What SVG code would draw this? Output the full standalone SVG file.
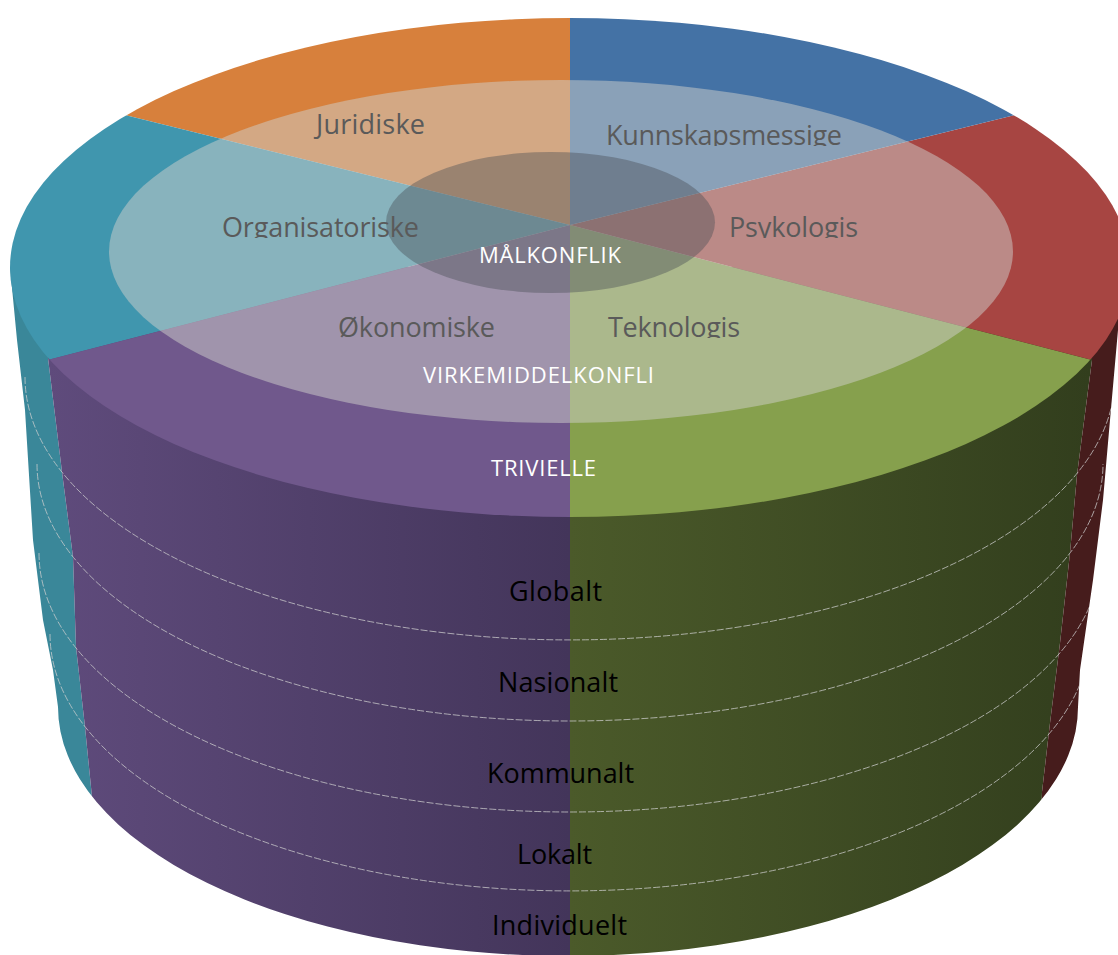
<svg xmlns="http://www.w3.org/2000/svg" width="1118" height="955" viewBox="0 0 1118 955">
<defs>
<style>
.lbl{font-family:"Open Sans","Liberation Sans",sans-serif;font-size:27px;fill:#5a5a5a}
.wl{font-family:"Open Sans","Liberation Sans",sans-serif;font-size:22px;fill:#ffffff}
.ly{font-family:"Open Sans","Liberation Sans",sans-serif;font-size:27px;fill:#000000}
.ring{fill:none;stroke:#cfcfcf;stroke-width:1;stroke-dasharray:7 2;opacity:0.75}
.light{fill:#D0CFCC;opacity:0.5}
.dark{fill:#464B52;opacity:0.4}
</style>
<clipPath id="topClip"><ellipse cx="570" cy="267.5" rx="560" ry="249.5"/></clipPath>
<clipPath id="bodyClip"><path d="M10,267 L17,340 L25,410 L33,540 L43,620 L53,670 L58,707 A510,249 0 0 0 1078,707 L1080,670 L1093,580 L1103,500 L1110,420 L1118,330 L1130,267 Z"/></clipPath>
<clipPath id="c145"><rect x="0" y="0" width="1118" height="146"/></clipPath>
<clipPath id="c237"><rect x="0" y="0" width="1118" height="238"/></clipPath>
<clipPath id="c337"><rect x="0" y="0" width="1118" height="338"/></clipPath>
<clipPath id="c692"><rect x="0" y="0" width="1118" height="693"/></clipPath>
<linearGradient id="gPurple" gradientUnits="userSpaceOnUse" x1="48" y1="0" x2="570" y2="0"><stop offset="0" stop-color="#5F4B7C"/><stop offset="1" stop-color="#43355A"/></linearGradient>
<linearGradient id="gGreen" gradientUnits="userSpaceOnUse" x1="570" y1="0" x2="1090" y2="0"><stop offset="0" stop-color="#4B5A2A"/><stop offset="1" stop-color="#323E1D"/></linearGradient>
</defs>

<g id="cylinder-side" clip-path="url(#bodyClip)">
<path fill="#3A8799" d="M-10,100 L48,100 L48,358 L62,472 L73,557 L76,647 L85,727 L92,797 L100,1000 L-10,1000 Z"/>
<path fill="url(#gPurple)" d="M48,100 L570,100 L570,1000 L100,1000 L92,797 L85,727 L76,647 L73,557 L62,472 L48,358 Z"/>
<path fill="url(#gGreen)" d="M570,100 L1092,100 L1092,360 L1077,475 L1070,553 L1060,643 L1050,723 L1042,792 L1035,1000 L570,1000 Z"/>
<path fill="#461C1C" d="M1092,100 L1140,100 L1140,1000 L1035,1000 L1042,792 L1050,723 L1060,643 L1070,553 L1077,475 L1092,360 Z"/>
</g>

<g id="layer-lines" clip-path="url(#bodyClip)">
<path class="ring" d="M25,377 A545,263 0 0 0 1115,377"/>
<path class="ring" d="M37,464 A533,257 0 0 0 1103,464"/>
<path class="ring" d="M39,553 A531,259 0 0 0 1101,553"/>
<path class="ring" d="M50,634 A520,257 0 0 0 1090,634"/>
</g>

<g id="top-face" clip-path="url(#topClip)">
<path id="sector-juridiske" fill="#D7803C" d="M570,225 L570,-200 L-300,-200 L-300,10 Z"/>
<path id="sector-organisatoriske" fill="#4096AE" d="M570,225 L-300,10 L-300,450 Z"/>
<path id="sector-okonomiske" fill="#70588C" d="M570,225 L-300,450 L-300,800 L570,800 Z"/>
<path id="sector-teknologis" fill="#86A04D" d="M570,225 L570,800 L1440,800 L1440,450 Z"/>
<path id="sector-psykologis" fill="#A74542" d="M570,225 L1440,450 L1440,10 Z"/>
<path id="sector-kunnskapsmessige" fill="#4472A5" d="M570,225 L1440,10 L1440,-200 L570,-200 Z"/>
<ellipse id="virkemiddel-ring" class="light" cx="561" cy="251.5" rx="452" ry="171.5"/>
<ellipse id="malkonflikt-core" class="dark" cx="550.5" cy="222.5" rx="164.5" ry="70.5"/>
</g>

<g id="sector-labels">
<text class="lbl" x="316" y="134" textLength="109" lengthAdjust="spacing">Juridiske</text>
<text class="lbl" x="606" y="145" textLength="236" lengthAdjust="spacing" clip-path="url(#c145)">Kunnskapsmessige</text>
<text class="lbl" x="222" y="237" textLength="197" lengthAdjust="spacing" clip-path="url(#c237)">Organisatoriske</text>
<text class="lbl" x="729" y="237" textLength="129" lengthAdjust="spacing" clip-path="url(#c237)">Psykologis</text>
<text class="lbl" x="338" y="337" textLength="157" lengthAdjust="spacing">Økonomiske</text>
<text class="lbl" x="608" y="337" textLength="132" lengthAdjust="spacing" clip-path="url(#c337)">Teknologis</text>
</g>

<g id="conflict-labels">
<text class="wl" x="479" y="263" textLength="142" lengthAdjust="spacing">MÅLKONFLIK</text>
<text class="wl" x="423" y="383" textLength="231" lengthAdjust="spacing">VIRKEMIDDELKONFLI</text>
<text class="wl" x="491" y="476" textLength="105" lengthAdjust="spacing">TRIVIELLE</text>
</g>

<g id="level-labels">
<text class="ly" x="509" y="601" textLength="93" lengthAdjust="spacing">Globalt</text>
<text class="ly" x="498" y="692" textLength="120" lengthAdjust="spacing" clip-path="url(#c692)">Nasjonalt</text>
<text class="ly" x="487" y="783" textLength="147" lengthAdjust="spacing">Kommunalt</text>
<text class="ly" x="517" y="864" textLength="75" lengthAdjust="spacing">Lokalt</text>
<text class="ly" x="492" y="935" textLength="135" lengthAdjust="spacing">Individuelt</text>
</g>
</svg>
